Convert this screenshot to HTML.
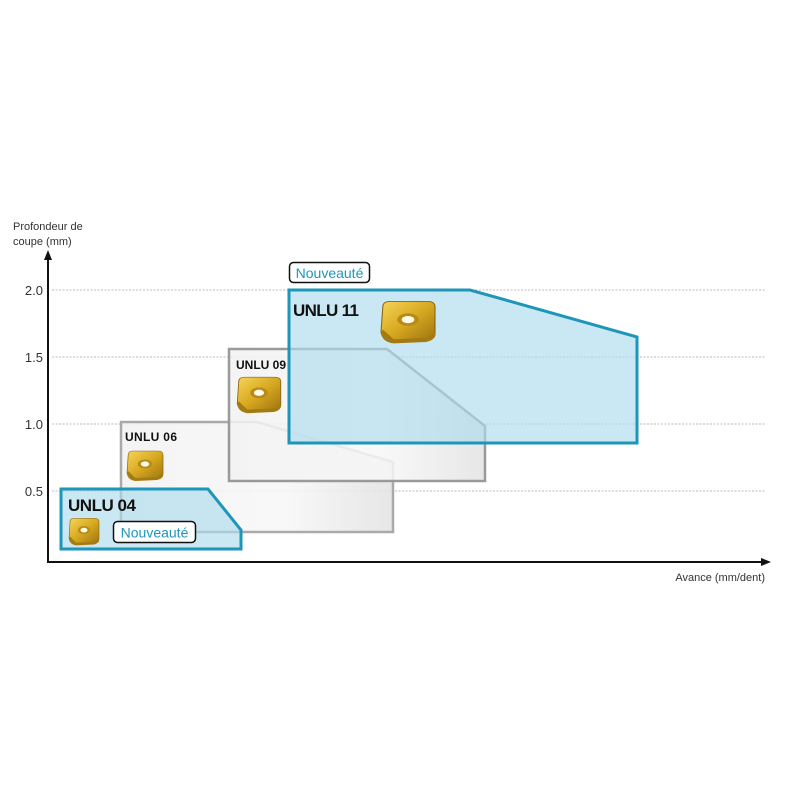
<!DOCTYPE html>
<html><head><meta charset="utf-8"><style>
html,body{margin:0;padding:0;background:#fff;}
svg{display:block;font-family:"Liberation Sans",sans-serif;}
</style></head><body>
<svg width="800" height="800" viewBox="0 0 800 800" xmlns="http://www.w3.org/2000/svg">
<defs>
<linearGradient id="g1" x1="0" y1="0" x2="1" y2="0"><stop offset="0" stop-color="#f2f2f2"/><stop offset="0.6" stop-color="#f7f7f7"/><stop offset="1" stop-color="#e2e2e2"/></linearGradient>
<linearGradient id="gold" x1="0" y1="0" x2="1" y2="1"><stop offset="0" stop-color="#f6d55a"/><stop offset="0.5" stop-color="#d8a921"/><stop offset="1" stop-color="#9c7410"/></linearGradient>
<g id="ins">
<path d="M-14,-10 Q-14,-14 -10,-14 L11,-14 Q15,-14 15,-10 L15,9 Q15,13 11,13 L-8,14 Q-14,14 -15,8 Z" fill="url(#gold)" stroke="#8a6510" stroke-width="0.6"/>
<path d="M-14,6 L-8,13 L11,12 L15,8 L15,11 Q14,14 10,15 L-8,16 Q-14,15 -15,9 Z" fill="#a47a12"/>
<ellipse cx="0" cy="-1" rx="6" ry="4.5" fill="#b88a18"/>
<ellipse cx="0" cy="-1" rx="3.5" ry="2.6" fill="#fffbe8"/>
</g>
</defs>
<g stroke="#bbb" stroke-width="1" stroke-dasharray="2,1.5">
<line x1="52" y1="290" x2="765" y2="290"/>
<line x1="52" y1="357" x2="765" y2="357"/>
<line x1="52" y1="424" x2="765" y2="424"/>
<line x1="52" y1="491" x2="765" y2="491"/>
</g>
<polygon points="121,422 257,422 393,462 393,532 121,532" fill="url(#g1)" fill-opacity="0.85" stroke="#aaa" stroke-width="2.5"/>
<polygon points="229,349 387,349 485,426 485,481 229,481" fill="url(#g1)" fill-opacity="0.85" stroke="#9a9a9a" stroke-width="2.5"/>
<polygon points="289,290 470,290 637,337 637,443 289,443" fill="#aedcec" fill-opacity="0.65" stroke="#1e96b9" stroke-width="3"/>
<polygon points="61,489 208,489 241,530 241,549 61,549" fill="#aedcec" fill-opacity="0.65" stroke="#1e96b9" stroke-width="3"/>
<line x1="48" y1="256" x2="48" y2="563" stroke="#111" stroke-width="2"/>
<polygon points="48,250 44,260 52,260" fill="#111"/>
<line x1="47" y1="562" x2="764" y2="562" stroke="#111" stroke-width="2"/>
<polygon points="771,562 761,558 761,566" fill="#111"/>
<g fill="#333" font-size="13" text-anchor="end">
<text x="43" y="295">2.0</text><text x="43" y="362">1.5</text><text x="43" y="429">1.0</text><text x="43" y="496">0.5</text>
</g>
<text x="13" y="230" font-size="11" fill="#333">Profondeur de</text>
<text x="13" y="245" font-size="11" fill="#333">coupe (mm)</text>
<text x="765" y="581" font-size="11" fill="#333" text-anchor="end">Avance (mm/dent)</text>
<text x="293" y="316" font-size="17" font-weight="bold" fill="#111" textLength="66">UNLU 11</text>
<text x="236" y="369" font-size="12" font-weight="bold" fill="#111" textLength="50">UNLU 09</text>
<text x="125" y="441" font-size="12" font-weight="bold" fill="#111" textLength="52">UNLU 06</text>
<text x="68" y="511" font-size="17" font-weight="bold" fill="#111" textLength="68">UNLU 04</text>
<rect x="289.5" y="262.5" width="80" height="20" rx="4" fill="#fff" stroke="#111" stroke-width="1.5"/>
<text x="329.5" y="278" font-size="14" fill="#1e96b9" text-anchor="middle">Nouveauté</text>
<rect x="113.5" y="521.5" width="82" height="21" rx="4" fill="#fff" stroke="#111" stroke-width="1.5"/>
<text x="154.5" y="537.5" font-size="14" fill="#1e96b9" text-anchor="middle">Nouveauté</text>
<use href="#ins" transform="translate(408,321) scale(1.8,1.4)"/>
<use href="#ins" transform="translate(259,394) scale(1.45,1.2)"/>
<use href="#ins" transform="translate(145,465) scale(1.2,1.0)"/>
<use href="#ins" transform="translate(84,531) scale(1.0,0.9)"/>
</svg>
</body></html>
